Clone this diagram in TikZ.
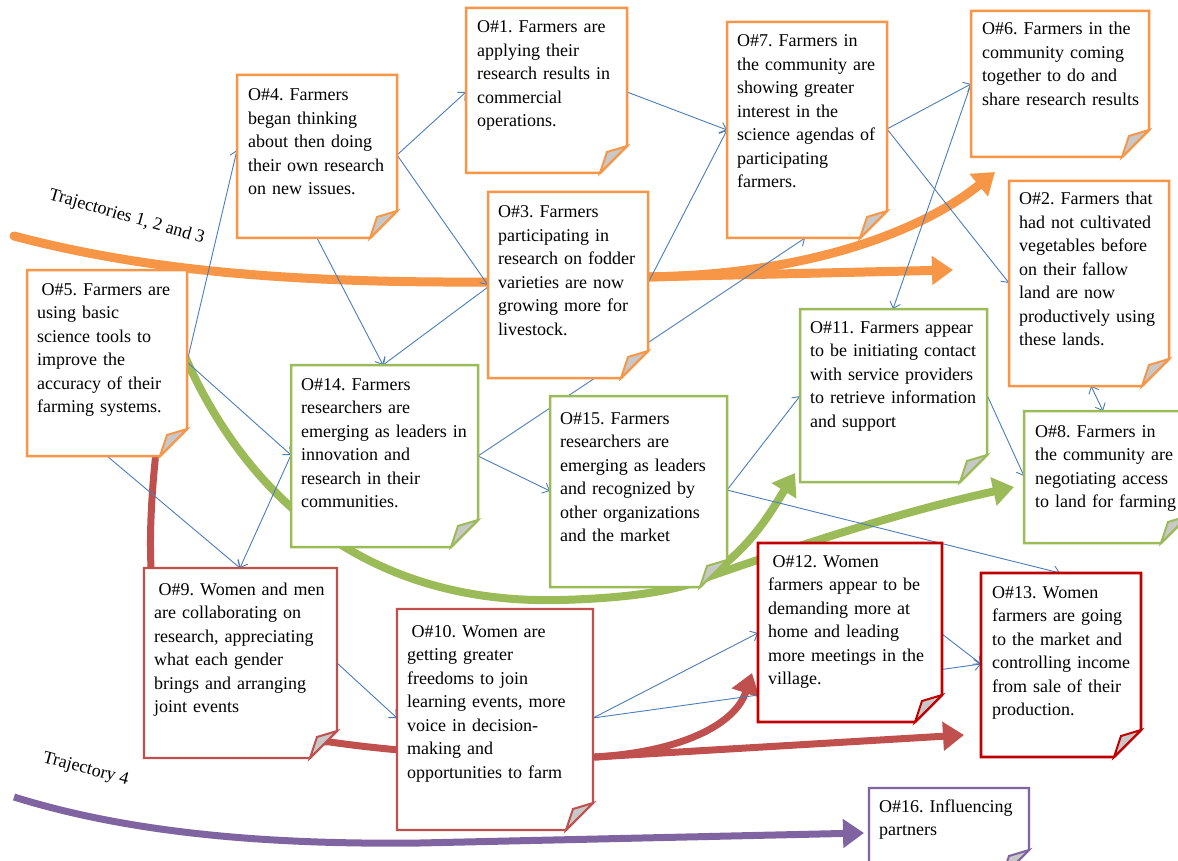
\documentclass[tikz,border=0pt]{standalone}
\usepackage{fontspec}
\setmainfont{Liberation Serif}
\usetikzlibrary{arrows.meta}
\definecolor{orangeC}{HTML}{F79646}
\definecolor{greenC}{HTML}{9BBB59}
\definecolor{redC}{HTML}{C0504D}
\definecolor{dredC}{HTML}{C00000}
\definecolor{purpleC}{HTML}{8064A2}
\definecolor{blueC}{HTML}{4A7EBB}
\definecolor{foldC}{HTML}{C8C8C8}
\pgfdeclarelayer{back}
\pgfsetlayers{back,main}
\frenchspacing
\tikzset{
 obox/.style={draw=orangeC, line width=2.5pt},
 gbox/.style={draw=greenC, line width=2.5pt},
 rbox/.style={draw=redC, line width=2.2pt},
 dbox/.style={draw=dredC, line width=2.8pt},
 pbox/.style={draw=purpleC, line width=2.2pt},
 txt/.style={inner sep=0pt, anchor=base west, text width=220pt, align=left, font=\fontsize{18}{23.5}\selectfont\frenchspacing},
 lbl/.style={inner sep=0pt, anchor=base west, font=\fontsize{18}{18}\selectfont},
 link/.style={draw=blueC, line width=0.9pt, -{Straight Barb[length=6pt,width=11pt]}},
 dlink/.style={draw=blueC, line width=0.9pt, {Straight Barb[length=6pt,width=11pt]}-{Straight Barb[length=6pt,width=11pt]}},
 bighead/.style={-{Triangle[length=21pt,width=28pt]}},
 otraj/.style={draw=orangeC, line width=9pt},
 gtraj/.style={draw=greenC, line width=8pt},
 rtraj/.style={draw=redC, line width=7pt},
 ptraj/.style={draw=purpleC, line width=7pt},
}
\newcommand\notebox[6]{%
 \node[inner sep=0pt, outer sep=0pt, minimum width={#5pt-#3pt}, minimum height={#6pt-#4pt}, anchor=north west] (#1) at (#3,#4) {};
 \draw[#2, fill=white, line join=miter] (#1.north west) -- (#1.north east) -- ([yshift=27pt]#1.south east) -- ([xshift=-27pt]#1.south east) -- (#1.south west) -- cycle;
 \draw[#2, fill=foldC, line width=2pt] ([yshift=27pt]#1.south east) -- ([xshift=-27pt]#1.south east) -- ([xshift=-20pt,yshift=21pt]#1.south east) -- cycle;
}
\begin{document}
\begin{tikzpicture}[x=1pt,y=-1pt]
\useasboundingbox (0,0) rectangle (1178,861);
% boxes
\notebox{o1}{obox}{466}{8}{627}{173}
\notebox{o4}{obox}{237}{75}{397}{238}
\notebox{o7}{obox}{727}{22}{887}{238}
\notebox{o6}{obox}{971}{11}{1149}{157}
\notebox{o2}{obox}{1009}{181}{1169}{386}
\notebox{o3}{obox}{488}{192}{648}{378}
\notebox{o5}{obox}{27}{270}{187}{456}
\notebox{o14}{gbox}{291}{365}{478}{547}
\notebox{o15}{gbox}{550}{396}{727}{587}
\notebox{o11}{gbox}{800}{309}{987}{482}
\notebox{o8}{gbox}{1024}{411}{1188}{543}
\notebox{o9}{rbox}{144}{568}{337}{758}
\notebox{o10}{rbox}{397}{609}{593}{830}
\notebox{o12}{dbox}{758}{543}{942}{722}
\notebox{o13}{dbox}{981}{573}{1141}{757}
\notebox{o16}{pbox}{869}{788}{1029}{877}
% texts
\node[txt] (o1t) at (477,33) {O\#1. Farmers are\\applying their\\research results in\\commercial\\operations.};
\node[txt] (o4t) at (248,101) {O\#4. Farmers\\began thinking\\about then doing\\their own research\\on new issues.};
\node[txt] (o7t) at (737,47) {O\#7. Farmers in\\the community are\\showing greater\\interest in the\\science agendas of\\participating\\farmers.};
\node[txt] (o6t) at (982,35) {O\#6. Farmers in the\\community coming\\together to do and\\share research results};
\node[txt] (o2t) at (1019,205) {O\#2. Farmers that\\had not cultivated\\vegetables before\\on their fallow\\land are now\\productively using\\these lands.};
\node[txt] (o3t) at (498,218) {O\#3. Farmers\\participating in\\research on fodder\\varieties are now\\growing more for\\livestock.};
\node[txt] (o5t) at (37,295) {\hspace*{4.5pt}O\#5. Farmers are\\using basic\\science tools to\\improve the\\accuracy of their\\farming systems.};
\node[txt] (o14t) at (301,390) {O\#14. Farmers\\researchers are\\emerging as leaders in\\innovation and\\research in their\\communities.};
\node[txt] (o15t) at (560,424) {O\#15. Farmers\\researchers are\\emerging as leaders\\and recognized by\\other organizations\\and the market};
\node[txt] (o11t) at (810,333) {O\#11. Farmers appear\\to be initiating contact\\with service providers\\to retrieve information\\and support};
\node[txt] (o8t) at (1035,437) {O\#8. Farmers in\\the community are\\negotiating access\\to land for farming};
\node[txt] (o9t) at (154,595) {\hspace*{4.5pt}O\#9. Women and men\\are collaborating on\\research, appreciating\\what each gender\\brings and arranging\\joint events};
\node[txt] (o10t) at (407,637) {\hspace*{4.5pt}O\#10. Women are\\getting greater\\freedoms to join\\learning events, more\\voice in decision-\\making and\\opportunities to farm};
\node[txt] (o12t) at (768,567) {\hspace*{4.5pt}O\#12. Women\\farmers appear to be\\demanding more at\\home and leading\\more meetings in the\\village.};
\node[txt] (o13t) at (992,598) {O\#13. Women\\farmers are going\\to the market and\\controlling income\\from sale of their\\production.};
\node[txt] (o16t) at (879,812) {O\#16. Influencing\\partners};
% trajectory labels
\node[lbl, rotate=-16] (lab1) at (48,199) {Trajectories 1, 2 and 3};
\node[lbl, rotate=-15] (lab4) at (42,762) {Trajectory 4};
\begin{pgfonlayer}{back}
\fill[white] (0,0) rectangle (1178,861);
% trajectory coordinates
\coordinate (os) at (14,236);
\coordinate (ob) at (645,277);
\coordinate (oe1) at (953,270);
\coordinate (oe2) at (995,172);
\coordinate (gs) at (180,345);
\coordinate (gb) at (705,578);
\coordinate (ge1) at (795,473);
\coordinate (ge2) at (1014,487);
\coordinate (rs) at (156,452);
\coordinate (rb) at (595,757);
\coordinate (re1) at (752,673);
\coordinate (re2) at (964,735);
\coordinate (ps) at (14,797);
\coordinate (pe) at (864,833);
% orange
\draw[otraj, line cap=round] (os) .. controls (150,272) and (300,283) .. (488,282) -- (ob);
\draw[otraj, bighead] (ob) -- (oe1);
\draw[otraj, bighead] (ob) .. controls (820,275) and (930,225) .. (oe2);
% green
\draw[gtraj, line cap=round] (gs) .. controls (240,490) and (360,605) .. (560,600) .. controls (640,598) and (685,588) .. (gb);
\draw[gtraj, bighead] (gb) .. controls (750,550) and (772,510) .. (ge1);
\draw[gtraj, bighead] (gb) .. controls (800,545) and (900,512) .. (ge2);
% red
\draw[rtraj, line cap=round] (rs) .. controls (135,650) and (170,740) .. (330,742) .. controls (420,755) and (520,758) .. (rb);
\draw[rtraj, bighead] (rb) .. controls (680,752) and (735,725) .. (re1);
\draw[rtraj, bighead] (rb) -- (re2);
% purple
\draw[ptraj, bighead] (ps) .. controls (120,830) and (250,845) .. (420,843) -- (pe);
% blue connectors
\draw[link] ([yshift=-92pt]o5.north east) -- ([yshift=-75pt]o4.north west);
\draw[link] ([yshift=-80pt]o4.north east) -- ([yshift=-84pt]o1.north west);
\draw[link] ([yshift=-80pt]o4.north east) -- ([yshift=-93pt]o3.north west);
\draw[link] ([yshift=-84pt]o1.north east) -- ([yshift=-108pt]o7.north west);
\draw[link] ([yshift=-91pt]o3.north east) -- ([yshift=-108pt]o7.north west);
\draw[link] ([xshift=80pt]o4.south west) -- ([xshift=92pt]o14.north west);
\draw[link] ([yshift=-95pt]o3.north west) -- ([xshift=92pt]o14.north west);
\draw[link] ([yshift=-92pt]o5.north east) -- ([yshift=-90pt]o14.north west);
\draw[link] ([xshift=80pt]o5.south west) -- ([xshift=96pt]o9.north west);
\draw[link] ([yshift=-90pt]o14.north west) -- ([xshift=96pt]o9.north west);
\draw[link] ([yshift=-91pt]o14.north east) -- ([yshift=-95pt]o15.north west);
\draw[link] ([yshift=-91pt]o14.north east) -- ([xshift=78pt]o7.south west);
\draw[link] ([yshift=-94pt]o15.north east) -- ([yshift=-87pt]o11.north west);
\draw[link] ([yshift=-94pt]o15.north east) -- ([xshift=79pt]o13.north west);
\draw[link] ([yshift=-86pt]o11.north east) -- ([yshift=-65pt]o8.north west);
\draw[link] ([yshift=-107pt]o7.north east) -- ([yshift=-73pt]o6.north west);
\draw[link] ([yshift=-107pt]o7.north east) -- ([yshift=-102pt]o2.north west);
\draw[link] ([yshift=-73pt]o6.north west) -- ([xshift=93pt]o11.north west);
\draw[dlink] ([xshift=82pt]o2.south west) -- ([xshift=79pt]o8.north west);
\draw[link] ([yshift=-95pt]o9.north east) -- ([yshift=-109pt]o10.north west);
\draw[link] ([yshift=-109pt]o10.north east) -- ([yshift=-90pt]o12.north west);
\draw[link] ([yshift=-109pt]o10.north east) -- ([yshift=-91pt]o13.north west);
\draw[link] ([yshift=-91pt]o12.north east) -- ([yshift=-91pt]o13.north west);
\end{pgfonlayer}
\end{tikzpicture}
\end{document}
